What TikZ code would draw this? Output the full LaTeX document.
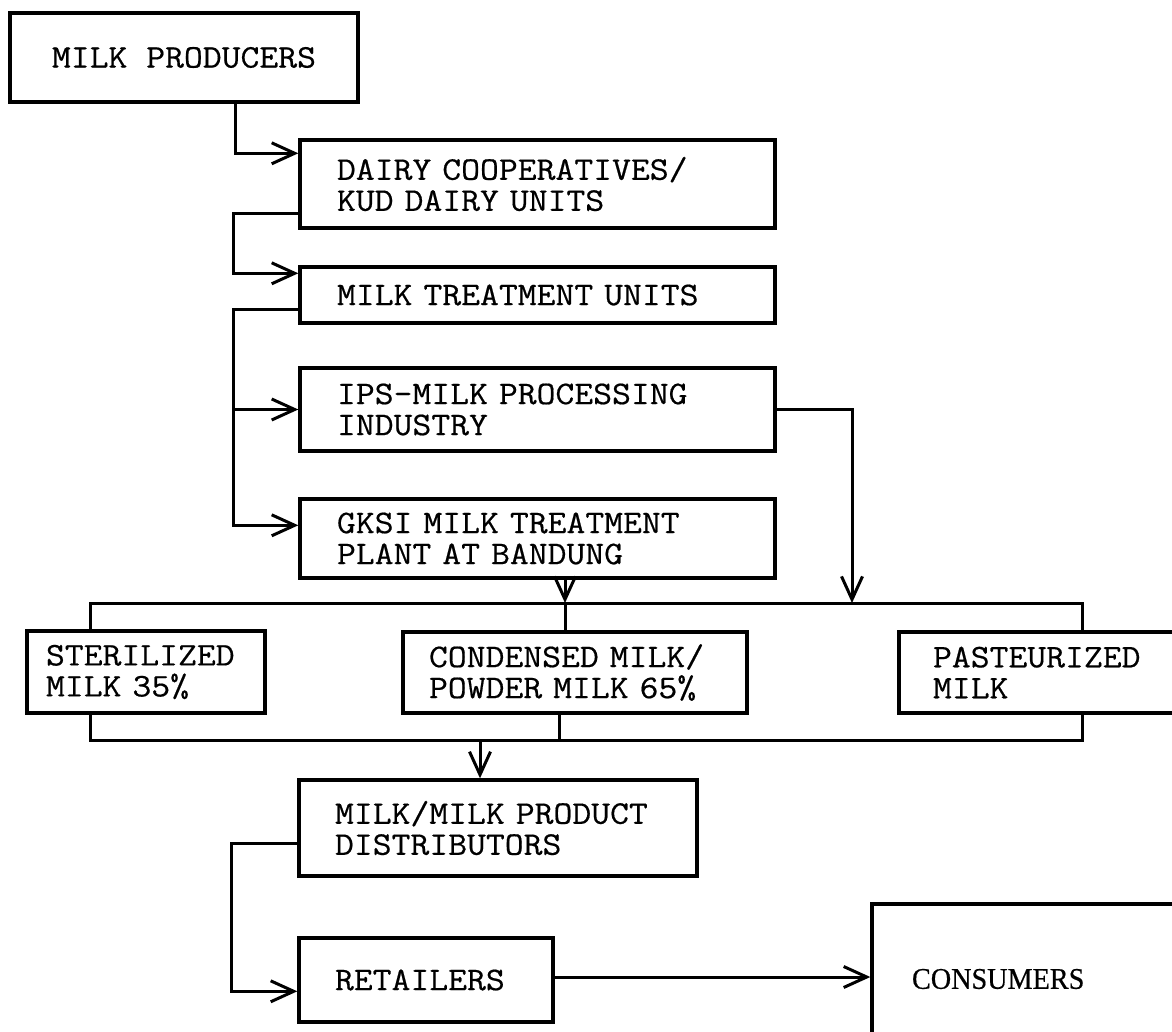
\documentclass[tikz,border=0pt]{standalone}
\usepackage{fontspec}
\newfontfamily\typefont[FakeStretch=1.11, FakeBold=0.5]{Latin Modern Mono}
\newfontfamily\printfont[FakeStretch=0.94, FakeBold=0.5]{Liberation Serif}
\usetikzlibrary{arrows.meta,calc}

\tikzset{
  box/.style={draw, rectangle, line width=3.4pt, inner xsep=0pt, inner ysep=0pt,
    font=\typefont\fontsize{33}{31}\selectfont, align=left},
  conn/.style={line width=3pt},
  arr/.style={conn, -{Straight Barb[length=23pt,width=21pt]}},
}

\begin{document}
\begin{tikzpicture}[x=1pt,y=-1pt]
\useasboundingbox (0,0) rectangle (1172,1032);
\fill[white] (0,0) rectangle (1172,1032);
\clip (0,0) rectangle (1172,1032);

% boxes of the supply chain
\node[box, align=center, minimum width=348pt, minimum height=89pt] (prod) at (184,57.5) {MILK PRODUCERS};
\node[box, minimum width=475pt, minimum height=88pt, text width=401pt] (dairy) at (537.5,184) {DAIRY COOPERATIVES/\\KUD DAIRY UNITS};
\node[box, minimum width=475pt, minimum height=56pt, text width=401pt] (mtu) at (537.5,295) {MILK TREATMENT UNITS};
\node[box, minimum width=475pt, minimum height=83pt, text width=401pt] (ips) at (537.5,409.5) {IPS-MILK PROCESSING\\INDUSTRY};
\node[box, minimum width=475pt, minimum height=79pt, text width=401pt] (gksi) at (537.5,538.5) {GKSI MILK TREATMENT\\PLANT AT BANDUNG};

\node[box, minimum width=238pt, minimum height=82pt, text width=200pt] (ster) at (146,672) {STERILIZED\\MILK 35\%};
\node[box, minimum width=344pt, minimum height=81pt, text width=292pt] (cond) at (575,672.5) {CONDENSED MILK/\\POWDER MILK 65\%};
\node[box, minimum width=310pt, minimum height=81pt, text width=242pt] (past) at (1054,672.5) {PASTEURIZED\\MILK};

\node[box, minimum width=398pt, minimum height=96pt, text width=326pt] (distr) at (498,828) {MILK/MILK PRODUCT\\DISTRIBUTORS};
\node[box, minimum width=254pt, minimum height=84pt, text width=182pt] (ret) at (426,980) {RETAILERS};
\node[box, minimum width=378pt, minimum height=150pt, text width=298pt,
      font=\printfont\fontsize{30}{32}\selectfont] (cons) at (1061,979) {CONSUMERS};

% trunk lines and junction points
\coordinate (tA) at (235,0);
\coordinate (tB) at (233,0);
\coordinate (tC) at (231,0);
\coordinate (mtuIn) at ([yshift=-8pt]mtu.north west);
\coordinate (mtuOut) at ([yshift=15pt]mtu.south west);
\coordinate (gksiIn) at ([yshift=-28pt]gksi.north west);
\coordinate (ipsDrop) at (852,603);
\coordinate (gDrop) at (565,603);
\coordinate (busL) at (90,603);
\coordinate (busR) at (1082,603);
\coordinate (lowL) at (90,740);
\coordinate (lowR) at (1082,740);
\coordinate (lowC) at (559,740);
\coordinate (lowArr) at (480,740);
\coordinate (dOut) at ([yshift=34pt]distr.south west);
\coordinate (rIn) at ([yshift=-55pt]ret.north west);

% connectors
\draw[arr] (prod.south -| tA) |- ([yshift=-15pt]dairy.north west);
\draw[arr] ([yshift=16pt]dairy.south west) -| (tB |- mtuIn) -- (mtuIn);
\draw[arr] (mtuOut) -| (tB |- gksiIn) -- (gksiIn);
\draw[arr] (tB |- ips.west) -- (ips.west);
\draw[arr] (ips.east) -| (ipsDrop);
\draw[arr] (gksi.south -| gDrop) -- (gDrop);

\draw[conn] (ster.north -| busL) -- (busL) -- (busR) -- (past.north -| busR);
\draw[conn] (gDrop) -- (cond.north -| gDrop);

\draw[conn] (ster.south -| lowL) -- (lowL) -- (lowR) -- (past.south -| lowR);
\draw[conn] (cond.south -| lowC) -- (lowC);
\draw[arr] (lowArr) -- (distr.north -| lowArr);

\draw[arr] (dOut) -| (tC |- rIn) -- (rIn);
\draw[arr] ([yshift=3pt]ret.east) -- ([yshift=3pt]ret.east -| cons.west);
\end{tikzpicture}
\end{document}
